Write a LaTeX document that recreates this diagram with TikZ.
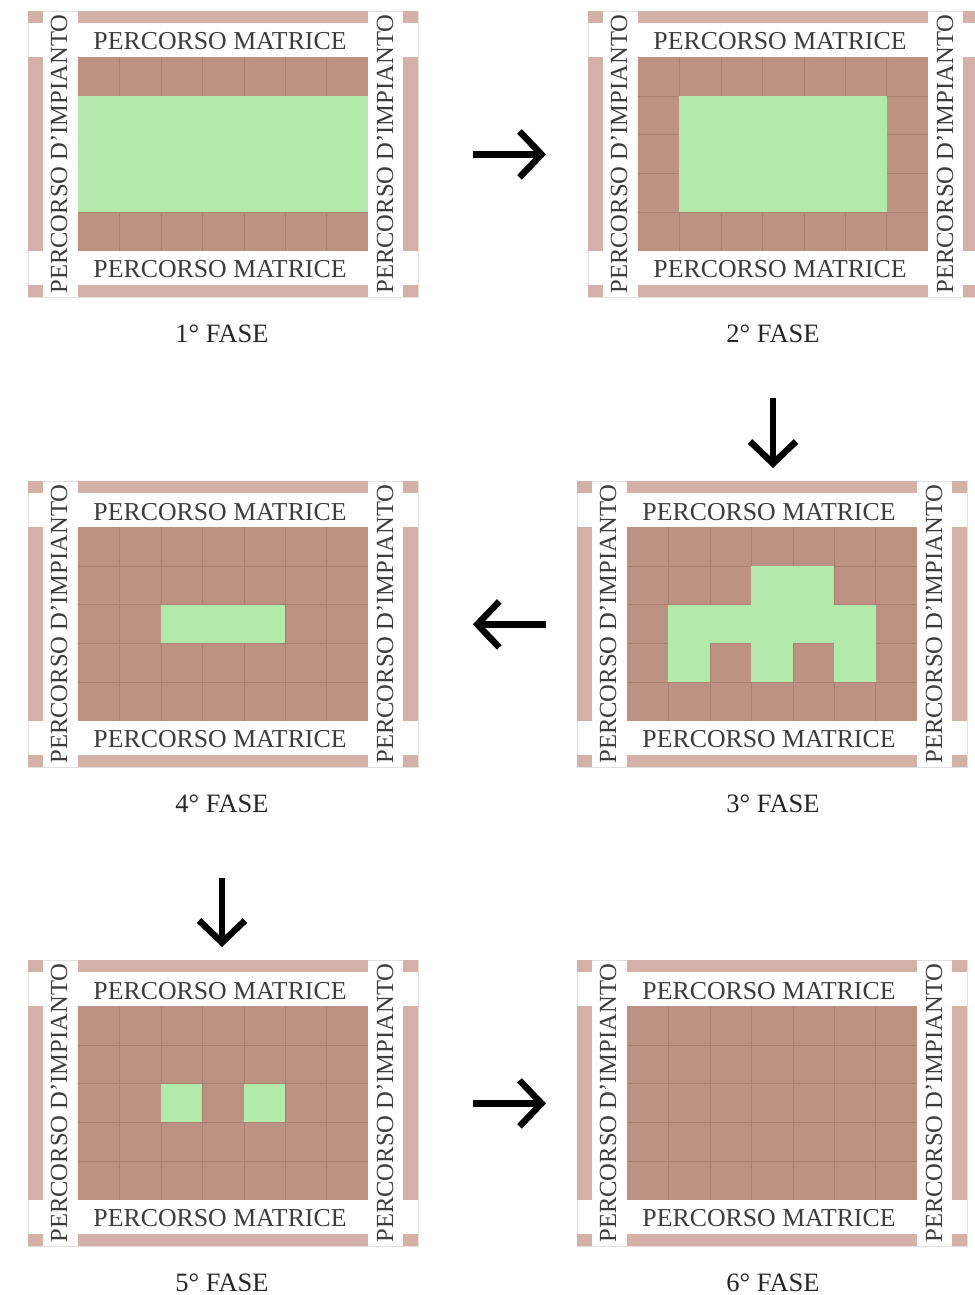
\documentclass[tikz,border=0pt]{standalone}
\usepackage{fontspec}
\setmainfont{Liberation Serif}
\usetikzlibrary{arrows.meta, positioning}
\definecolor{fsBrown}{HTML}{BE9282}
\definecolor{fsStrip}{HTML}{D3B1A6}
\definecolor{fsGreen}{HTML}{B2EBA9}
\definecolor{fsInk}{HTML}{3C3C3C}

\begin{document}
\begin{tikzpicture}[
  x=1pt, y=-1pt,
  edgestrip/.style={fill=fsStrip},
  plotfill/.style={fill=fsBrown},
  seam/.style={draw=fsBrown!88!black, line width=0.4pt},
  sprout/.style={fill=fsGreen},
  lotframe/.style={draw=black!12, line width=0.8pt, minimum width=390pt,
    minimum height=286pt, inner sep=0pt, anchor=north west},
  roadtext/.style={font=\fontsize{25.8}{26}\selectfont, text=fsInk, inner sep=0pt, anchor=base},
  sidetext/.style={font=\fontsize{24.6}{25}\selectfont, text=fsInk, inner sep=0pt,
    anchor=base, rotate=90},
  phaselabel/.style={font=\fontsize{26.5}{27}\selectfont, text=black!85, inner sep=1pt, anchor=base},
  flowarrow/.style={-{Straight Barb[length=22pt, width=46pt]}, line width=6.5pt, draw=black},
]
\useasboundingbox (0,0) rectangle (974,1295);

% One lot: the pink paths round it, the 7x5 brown plots, the four road names.
\newcommand{\lotpanel}[1]{%
  \node[lotframe] (#1) at (0,0) {};
  \foreach \xa/\xb in {0/15, 50/340, 375/390} {
    \fill[edgestrip] (\xa,0) rectangle (\xb,12);
    \fill[edgestrip] (\xa,274) rectangle (\xb,286);}
  \fill[edgestrip] (0,46) rectangle (15,240);
  \fill[edgestrip] (375,46) rectangle (390,240);
  \fill[plotfill] (50,46) rectangle (340,240);
  \foreach \c in {1,...,6}
    \draw[seam] ({50+\c*290/7},46) -- ({50+\c*290/7},240);
  \foreach \r in {1,...,4}
    \draw[seam] (50,{46+\r*38.8}) -- (340,{46+\r*38.8});
  \node[roadtext] (#1-mt) at (192,39) {PERCORSO MATRICE};
  \node[roadtext] (#1-mb) at (192,266) {PERCORSO MATRICE};
  \node[sidetext] (#1-il) at (39,143) {PERCORSO D'IMPIANTO};
  \node[sidetext] (#1-ir) at (365,143) {PERCORSO D'IMPIANTO};}

% A green (still free) plot in column #1, row #2.
\newcommand{\sproutcell}[2]{%
  \fill[sprout] ({50+#1*290/7},{46+#2*38.8}) rectangle ({50+(#1+1)*290/7},{46+(#2+1)*38.8});}

% ================================ 1st phase ==================================
\begin{scope}[shift={(28,11)}]
  \lotpanel{p1}
  \foreach \r in {1,2,3}
    \foreach \c in {0,...,6} {\sproutcell{\c}{\r}}
\end{scope}

% ================================ 2nd phase ==================================
\begin{scope}[shift={(588,11)}]
  \lotpanel{p2}
  \foreach \r in {1,2,3}
    \foreach \c in {1,...,5} {\sproutcell{\c}{\r}}
\end{scope}

% ================================ 3rd phase ==================================
\begin{scope}[shift={(577,481)}]
  \lotpanel{p3}
  \sproutcell{3}{1} \sproutcell{4}{1}
  \foreach \c in {1,...,5} {\sproutcell{\c}{2}}
  \sproutcell{1}{3} \sproutcell{3}{3} \sproutcell{5}{3}
\end{scope}

% ================================ 4th phase ==================================
\begin{scope}[shift={(28,481)}]
  \lotpanel{p4}
  \sproutcell{2}{2} \sproutcell{3}{2} \sproutcell{4}{2}
\end{scope}

% ================================ 5th phase ==================================
\begin{scope}[shift={(28,960)}]
  \lotpanel{p5}
  \sproutcell{2}{2} \sproutcell{4}{2}
\end{scope}

% ================================ 6th phase ==================================
\begin{scope}[shift={(577,960)}]
  \lotpanel{p6}
\end{scope}

% labels
\node[phaselabel] (l1) at (222,342) {1° FASE};
\node[phaselabel] (l2) at (773,342) {2° FASE};
\node[phaselabel] (l3) at (773,812) {3° FASE};
\node[phaselabel] (l4) at (222,812) {4° FASE};
\node[phaselabel] (l5) at (222,1291) {5° FASE};
\node[phaselabel] (l6) at (773,1291) {6° FASE};

% order of the phases
\draw[flowarrow, shorten <=54pt, shorten >=42pt] (p1.east) -- (p2.west);
\draw[flowarrow, shorten <=55pt, shorten >=13pt] (l2.south) -- (l2.south |- p3.north);
\draw[flowarrow, shorten <=31pt, shorten >=54pt] (p3.west) -- (p4.east);
\draw[flowarrow, shorten <=65pt, shorten >=13pt] (l4.south) -- (l4.south |- p5.north);
\draw[flowarrow, shorten <=54pt, shorten >=31pt] (p5.east) -- (p6.west);
\end{tikzpicture}
\end{document}
